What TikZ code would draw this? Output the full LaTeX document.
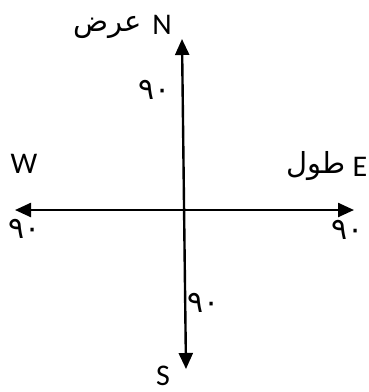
\documentclass[tikz,border=0pt]{standalone}
\usepackage{fontspec}
\setmainfont{Carlito}
\newfontfamily\arabicfont[Script=Arabic]{DejaVu Sans}
\TeXXeTstate=1
\usetikzlibrary{arrows.meta}
\tikzset{
  axis/.style={line width=2.4pt,{Triangle[length=16pt,width=14pt]}-{Triangle[length=16pt,width=14pt]}},
  letter/.style={inner sep=0pt,anchor=base,font=\fontsize{30}{34}\selectfont},
  arlabel/.style={inner sep=0pt,anchor=base,font=\arabicfont\fontsize{29}{34}\selectfont},
  deg/.style={inner sep=0pt,font=\arabicfont\fontsize{30}{34}\selectfont}
}
\begin{document}
\begin{tikzpicture}[x=1pt,y=-1pt]
\useasboundingbox (0,0) rectangle (368,392);
\coordinate (ntip) at (182,39);
\coordinate (stip) at (186,369);
\coordinate (wtip) at (15,210);
\coordinate (etip) at (354,210);
\draw[axis] (stip) -- (ntip);
\draw[axis] (wtip) -- (etip);
\node[letter] (N) at (162,34) {N};
\node[arlabel] (arN) at (108,31) {\beginR عرض\endR};
\node[letter] (W) at (24,173) {W};
\node[letter] (E) at (360,176) {E};
\node[arlabel] (arE) at (316,173) {\beginR طول\endR};
\node[letter] (S) at (163,385) {S};
\node[deg] (d1) at (155,90) {\beginR ٩٠\endR};
\node[deg] (d2) at (25,229) {\beginR ٩٠\endR};
\node[deg] (d3) at (348,230) {\beginR ٩٠\endR};
\node[deg] (d4) at (204,303) {\beginR ٩٠\endR};
\end{tikzpicture}
\end{document}
